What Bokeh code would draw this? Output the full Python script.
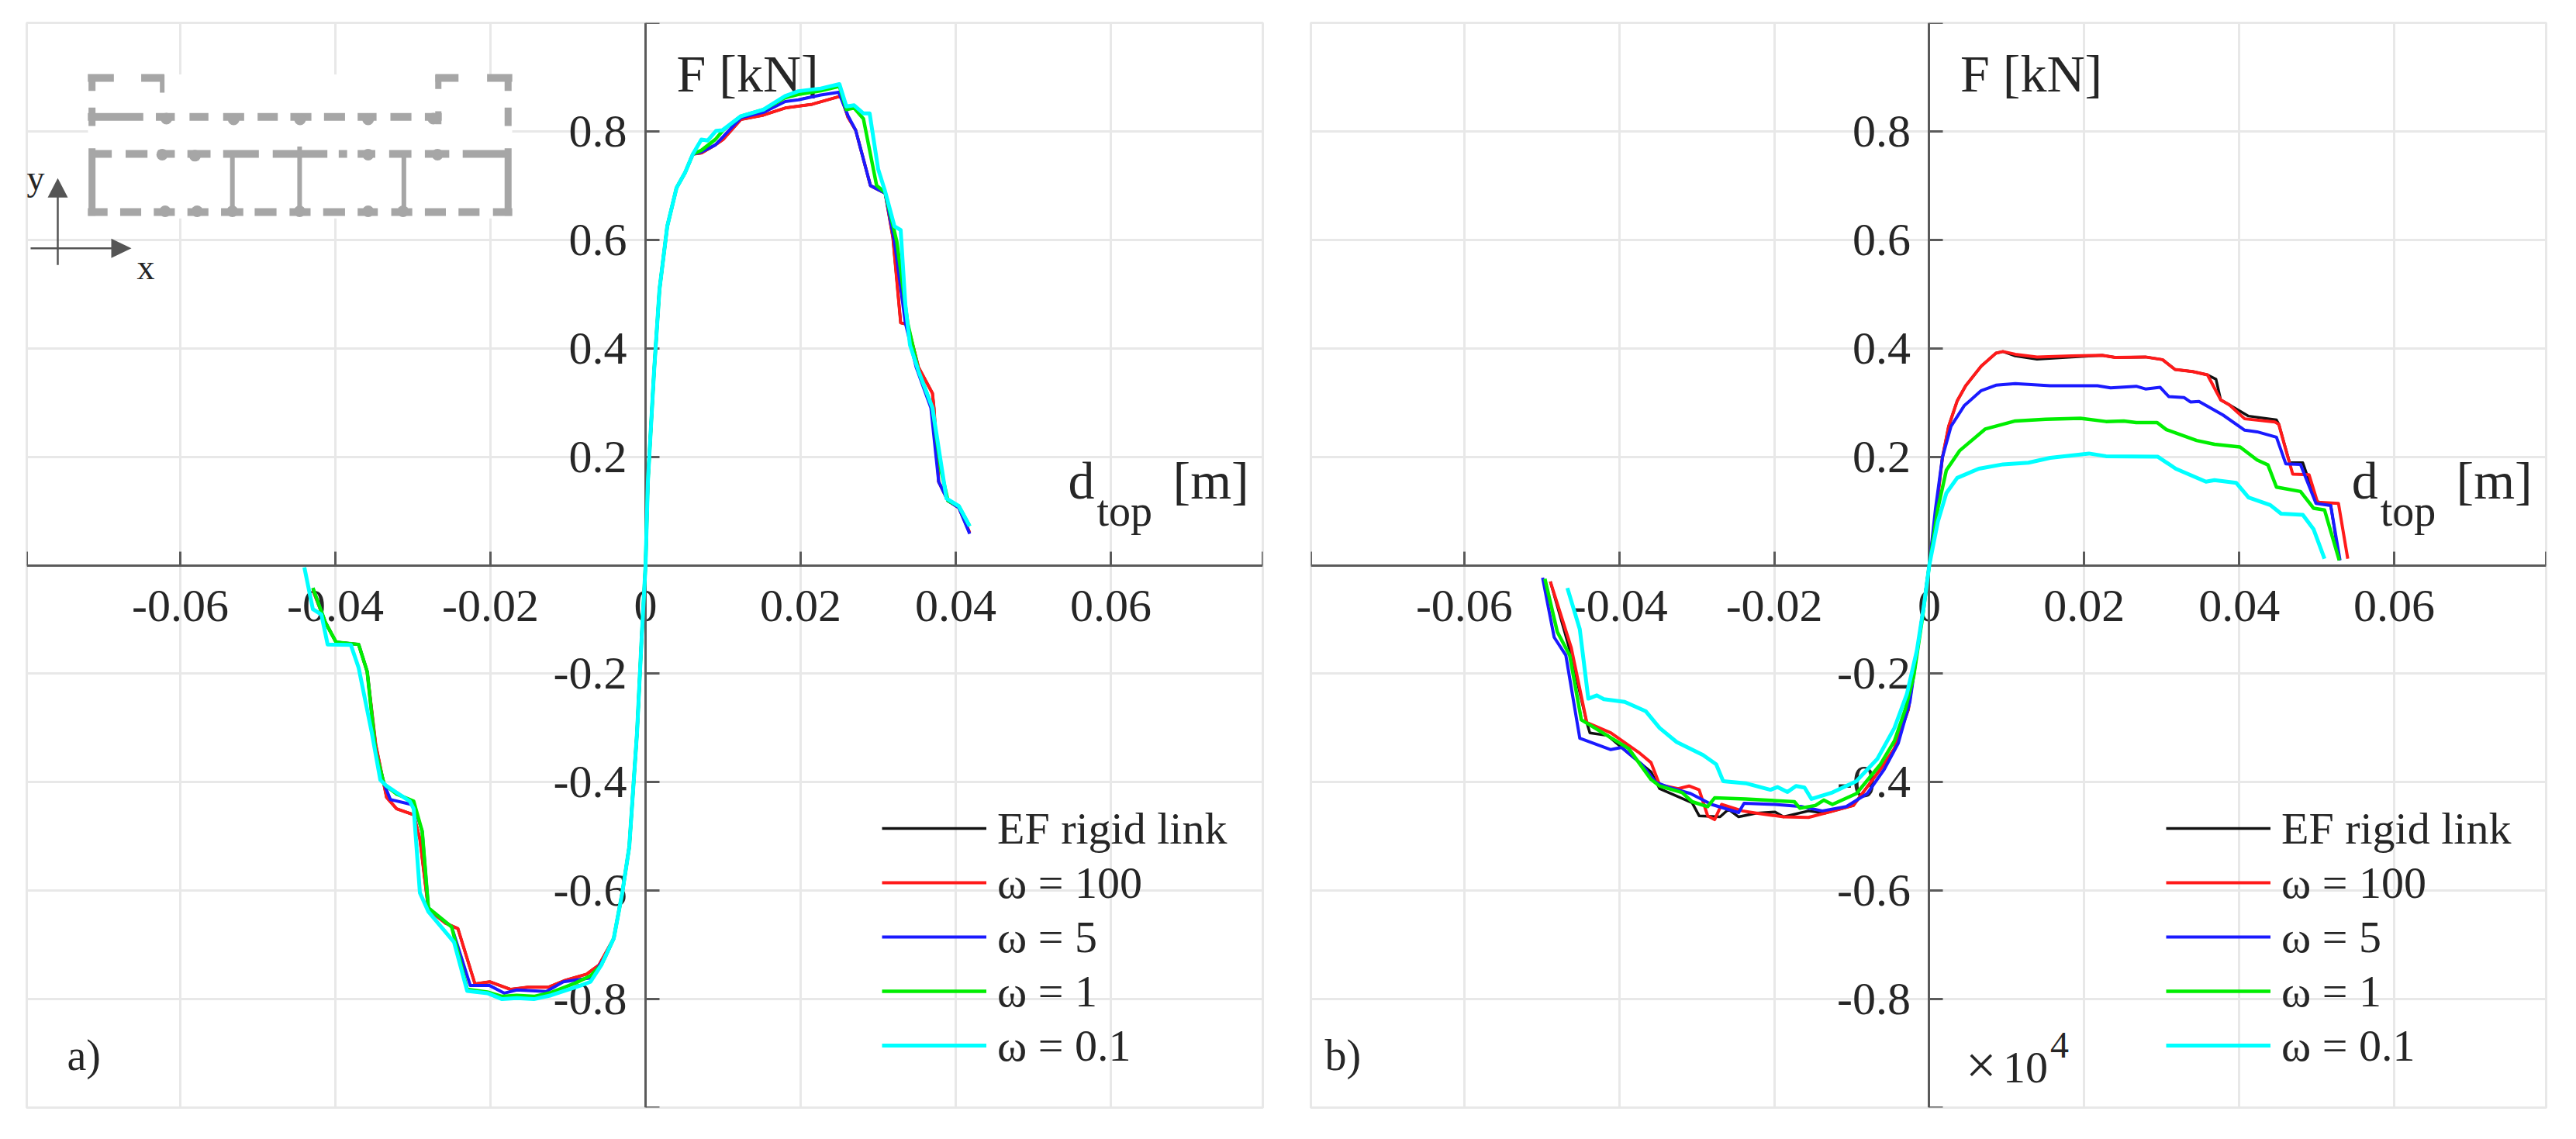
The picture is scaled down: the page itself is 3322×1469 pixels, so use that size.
from bokeh.plotting import figure
from bokeh.models import FixedTicker, Legend, LegendItem, Range1d
from bokeh.layouts import row
from bokeh.core.properties import value
from bokeh.embed import file_html
from bokeh.resources import INLINE

# ---------------- tick labels ----------------
X_TICKS = [-0.0798, -0.06, -0.04, -0.02, 0, 0.02, 0.04, 0.06, 0.0796]
X_LABELS = ["", "-0.06", "-0.04", "-0.02", "0", "0.02", "0.04", "0.06", ""]
Y_TICKS = [-1, -0.8, -0.6, -0.4, -0.2, 0, 0.2, 0.4, 0.6, 0.8, 1]
Y_LABELS = ["", "-0.8", "-0.6", "-0.4", "-0.2", "", "0.2", "0.4", "0.6", "0.8", ""]
SERIES_NAMES = ["EF rigid link", "ω = 100", "ω = 5", "ω = 1", "ω = 0.1"]
SERIES_COLORS = ["#111111", "#ff1a1a", "#1a1aff", "#00ee00", "#00ffff"]
SERIES_WIDTHS = [3.5, 4, 4, 4.5, 5]

# ---------------- panel a), d_top [m] and F [kN], negative end to positive end ----------------
A_CYAN_D = [-.0440, -.0429, -.0418, -.0410, -.0380, -.0370, -.0353, -.0342, -.0334, -.0304, -.0299, -.0291, -.0280, -.0247, -.0230, -.0204, -.0185, -.0166, -.0144, -.0122, -.0084, -.0071, -.0057, -.0041, -.0030, -.0021, -.0011, -.0005, 0,
            .0003, .0011, .0018, .0028, .0040, .0051, .0061, .0072, .0080, .0091, .0099, .0123, .0152, .0180, .0197, .0226, .0250, .0259, .0269, .0281, .0289, .0300, .0309, .0321, .0329, .0335, .0341, .0352, .0370, .0381, .0388, .0404, .0418]
A_CYAN_F = [-.004, -.081, -.091, -.146, -.147, -.189, -.309, -.396, -.407, -.435, -.449, -.604, -.639, -.695, -.785, -.789, -.800, -.798, -.800, -.793, -.775, -.768, -.737, -.688, -.604, -.519, -.309, -.133, 0,
            .154, .358, .509, .625, .696, .724, .758, .785, .783, .801, .802, .828, .840, .865, .874, .879, .887, .846, .848, .833, .833, .730, .689, .625, .618, .481, .406, .358, .290, .188, .123, .109, .072]

A_GREEN_D = [-.0429, -.0413, -.0399, -.0370, -.0359, -.0348, -.0337, -.0321, -.0299, -.0288, -.0280, -.0250, -.0230, -.0204, -.0185, -.0166, -.0144, -.0122, -.0090, -.0071, -.0057, -.0041, -.0030, -.0021, -.0011, -.0005, 0,
             .0003, .0011, .0018, .0028, .0040, .0051, .0061, .0072, .0090, .0100, .0123, .0152, .0180, .0197, .0226, .0250, .0259, .0269, .0281, .0298, .0309, .0324, .0338, .0352, .0370, .0381, .0390, .0404, .0418]
A_GREEN_F = [-.042, -.105, -.142, -.146, -.196, -.344, -.404, -.422, -.435, -.491, -.632, -.667, -.782, -.787, -.795, -.793, -.795, -.788, -.770, -.757, -.737, -.688, -.604, -.519, -.309, -.133, 0,
             .154, .358, .509, .625, .696, .724, .758, .765, .785, .802, .828, .840, .862, .868, .875, .883, .840, .843, .823, .700, .687, .597, .447, .358, .290, .175, .119, .109, .072]

A_BLUE_D = [-.0429, -.0413, -.0399, -.0370, -.0359, -.0348, -.0337, -.0329, -.0299, -.0288, -.0280, -.0250, -.0226, -.0201, -.0182, -.0166, -.0128, -.0106, -.0071, -.0052, -.0041, -.0030, -.0021, -.0011, -.0005, 0,
            .0003, .0011, .0018, .0028, .0040, .0051, .0061, .0072, .0090, .0100, .0123, .0152, .0180, .0197, .0226, .0249, .0261, .0271, .0290, .0309, .0321, .0335, .0349, .0368, .0378, .0390, .0404, .0418]
A_BLUE_F = [-.042, -.105, -.142, -.146, -.196, -.344, -.404, -.432, -.442, -.491, -.632, -.667, -.775, -.775, -.789, -.783, -.786, -.768, -.761, -.723, -.688, -.604, -.519, -.309, -.133, 0,
            .154, .358, .509, .625, .696, .724, .758, .762, .775, .790, .825, .835, .855, .858, .867, .872, .829, .802, .700, .686, .597, .447, .365, .290, .154, .119, .106, .058]

A_RED_D = [-.0429, -.0413, -.0399, -.0370, -.0359, -.0348, -.0334, -.0321, -.0299, -.0291, -.0280, -.0258, -.0242, -.0220, -.0201, -.0174, -.0152, -.0125, -.0103, -.0076, -.0060, -.0041, -.0030, -.0021, -.0011, -.0005, 0,
           .0003, .0011, .0018, .0028, .0040, .0051, .0061, .0072, .0090, .0100, .0123, .0152, .0180, .0215, .0252, .0261, .0271, .0290, .0309, .0319, .0329, .0338, .0352, .0370, .0372, .0378, .0390, .0404, .0418]
A_RED_F = [-.046, -.105, -.142, -.146, -.196, -.330, -.428, -.449, -.460, -.505, -.635, -.660, -.670, -.772, -.768, -.782, -.778, -.778, -.765, -.754, -.737, -.688, -.604, -.519, -.309, -.133, 0,
           .154, .358, .509, .625, .696, .724, .758, .760, .775, .785, .822, .830, .843, .850, .865, .826, .802, .700, .686, .604, .447, .444, .365, .317, .290, .154, .119, .106, .060]

A_BLACK_D = list(A_RED_D)
A_BLACK_F = list(A_RED_F)

# ---------------- panel b) ----------------
B_BLACK_D = [-.0489, -.0462, -.0442, -.0438, -.0415, -.0388, -.0359, -.0348, -.0306, -.0297, -.0270, -.0259, -.0246, -.0223, -.0199, -.0188, -.0156, -.0134, -.0098, -.0063, -.0045, -.0027, -.0011, 0,
             .0008, .0017, .0025, .0036, .0047, .0067, .0086, .0095, .0111, .0139, .0184, .0223, .0240, .0279, .0301, .0317, .0340, .0359, .0370, .0376, .0387, .0412, .0448, .0451, .0465, .0482, .0499, .0518, .0529]
B_BLACK_F = [-.030, -.166, -.290, -.309, -.314, -.347, -.381, -.412, -.438, -.462, -.464, -.450, -.464, -.457, -.455, -.464, -.453, -.457, -.443, -.376, -.338, -.266, -.113, 0,
             .090, .199, .256, .303, .331, .367, .391, .394, .386, .380, .384, .387, .383, .384, .379, .361, .357, .351, .343, .305, .296, .275, .268, .260, .189, .189, .118, .111, .009]

B_RED_D = [-.0489, -.0462, -.0442, -.0411, -.0375, -.0359, -.0348, -.0324, -.0310, -.0297, -.0286, -.0277, -.0268, -.0241, -.0223, -.0188, -.0156, -.0134, -.0098, -.0063, -.0045, -.0027, -.0011, 0,
           .0008, .0017, .0025, .0036, .0047, .0067, .0086, .0095, .0111, .0139, .0184, .0223, .0240, .0279, .0301, .0317, .0340, .0359, .0376, .0387, .0407, .0446, .0451, .0460, .0469, .0490, .0501, .0528, .0540]
B_RED_F = [-.030, -.152, -.290, -.309, -.345, -.364, -.405, -.412, -.407, -.414, -.462, -.469, -.441, -.453, -.457, -.464, -.465, -.457, -.443, -.376, -.338, -.266, -.113, 0,
           .090, .199, .256, .303, .331, .367, .391, .394, .389, .384, .386, .387, .383, .384, .379, .361, .357, .351, .305, .296, .270, .264, .260, .213, .168, .167, .116, .114, .012]

B_BLUE_D = [-.0499, -.0484, -.0469, -.0451, -.0411, -.0397, -.0371, -.0353, -.0335, -.0308, -.0281, -.0246, -.0239, -.0199, -.0165, -.0138, -.0107, -.0080, -.0058, -.0040, -.0025, -.0011, 0,
            .0008, .0017, .0028, .0045, .0067, .0086, .0111, .0156, .0217, .0234, .0267, .0279, .0298, .0309, .0329, .0337, .0348, .0379, .0407, .0423, .0448, .0460, .0479, .0499, .0518, .0530]
B_BLUE_F = [-.023, -.133, -.166, -.319, -.340, -.336, -.367, -.400, -.410, -.421, -.441, -.456, -.439, -.441, -.445, -.453, -.445, -.421, -.376, -.328, -.252, -.113, 0,
            .104, .199, .256, .294, .322, .332, .335, .331, .331, .327, .330, .325, .328, .311, .309, .301, .302, .277, .249, .246, .236, .187, .186, .114, .110, .009]

B_GREEN_D = [-.0496, -.0480, -.0464, -.0449, -.0388, -.0359, -.0348, -.0319, -.0306, -.0286, -.0277, -.0237, -.0174, -.0167, -.0147, -.0136, -.0125, -.0094, -.0063, -.0045, -.0031, -.0020, -.0009, 0,
             .0011, .0022, .0039, .0072, .0111, .0150, .0195, .0228, .0251, .0267, .0294, .0306, .0345, .0368, .0401, .0423, .0437, .0448, .0479, .0496, .0510, .0529]
B_GREEN_F = [-.025, -.123, -.166, -.285, -.338, -.395, -.407, -.419, -.436, -.445, -.429, -.431, -.436, -.448, -.443, -.433, -.441, -.421, -.367, -.324, -.266, -.204, -.099, 0,
             .104, .175, .211, .251, .266, .269, .271, .265, .266, .263, .263, .250, .230, .223, .218, .194, .185, .144, .136, .105, .102, .009]

B_CYAN_D = [-.0467, -.0451, -.0440, -.0429, -.0420, -.0393, -.0366, -.0348, -.0326, -.0292, -.0275, -.0266, -.0237, -.0205, -.0196, -.0183, -.0172, -.0161, -.0152, -.0125, -.0094, -.0067, -.0045, -.0029, -.0016, -.0007, 0,
            .0011, .0022, .0036, .0064, .0095, .0128, .0156, .0206, .0228, .0295, .0318, .0357, .0368, .0396, .0412, .0440, .0454, .0482, .0496, .0510]
B_CYAN_F = [-.042, -.118, -.246, -.240, -.247, -.252, -.269, -.300, -.326, -.350, -.367, -.398, -.402, -.414, -.409, -.418, -.407, -.410, -.431, -.419, -.398, -.357, -.300, -.238, -.157, -.075, 0,
            .080, .133, .161, .178, .186, .189, .198, .206, .201, .200, .178, .154, .157, .152, .125, .111, .095, .093, .066, .012]

A_CURVES = [(A_BLACK_D, A_BLACK_F), (A_RED_D, A_RED_F), (A_BLUE_D, A_BLUE_F), (A_GREEN_D, A_GREEN_F), (A_CYAN_D, A_CYAN_F)]
B_CURVES = [(B_BLACK_D, B_BLACK_F), (B_RED_D, B_RED_F), (B_BLUE_D, B_BLUE_F), (B_GREEN_D, B_GREEN_F), (B_CYAN_D, B_CYAN_F)]

SERIF = value("Liberation Serif")
INK = "#262626"
AXIS = "#5a5a5a"
GRID = "#e8e8e8"
PLAN = "#a6a6a6"


def make_panel(curves, width, left, right, zero_px):
    p = figure(width=width, height=1461, min_border_left=left, min_border_right=right,
               min_border_top=29, min_border_bottom=33, output_backend="svg", toolbar_location=None,
               x_range=Range1d(-0.0798, 0.0796), y_range=Range1d(-1.0, 1.0))
    p.background_fill_color = "white"
    p.outline_line_color = GRID
    p.outline_line_width = 3
    for ax, ticks, labels in ((p.xaxis[0], X_TICKS, X_LABELS), (p.yaxis[0], Y_TICKS, Y_LABELS)):
        ax.ticker = FixedTicker(ticks=ticks)
        ax.major_label_overrides = dict(zip(ticks, labels))
        ax.fixed_location = 0
        ax.level = "underlay"
        ax.axis_line_color = AXIS
        ax.axis_line_width = 3
        ax.major_tick_line_color = AXIS
        ax.major_tick_line_width = 3
        ax.major_tick_in = 18
        ax.major_tick_out = 0
        ax.minor_tick_line_color = None
        ax.major_label_text_font = "Liberation Serif"
        ax.major_label_text_font_size = "60px"
        ax.major_label_text_color = INK
    p.xaxis[0].major_label_standoff = 33
    p.yaxis[0].major_label_standoff = 24
    for g in (p.xgrid[0], p.ygrid[0]):
        g.grid_line_color = GRID
        g.grid_line_width = 3
        g.level = "image"
    p.xgrid[0].ticker = FixedTicker(ticks=X_TICKS)
    p.ygrid[0].ticker = FixedTicker(ticks=Y_TICKS)

    def dx(px):
        return (px - zero_px) / 10000.0

    def dy(py):
        return (729.5 - py) / 700.0

    def txt(px, py, s, size):
        p.text(x=[dx(px)], y=[dy(py - 0.3 * size)], text=[s], text_font=SERIF, text_font_size=f"{size}px",
               text_baseline="middle", text_align="left", text_color=INK)

    txt(zero_px + 40, 115, "F [kN]", 68)
    txt(zero_px + 545, 641, "d", 68)
    txt(zero_px + 582, 676, "top", 56)
    txt(zero_px + 680, 641, "[m]", 68)

    items = []
    for (d, f), name, col, w in zip(curves, SERIES_NAMES, SERIES_COLORS, SERIES_WIDTHS):
        r = p.line(d, f, line_color=col, line_width=w, line_join="round")
        items.append(LegendItem(label=name, renderers=[r]))
    leg = Legend(items=items, location=(1103, 45), background_fill_alpha=0, border_line_color=None,
                 label_text_font="Liberation Serif", label_text_font_size="58px", label_text_color=INK,
                 glyph_width=135, glyph_height=40, label_standoff=14, spacing=0, padding=0, margin=0,
                 label_height=70)
    p.add_layout(leg, "center")
    return p, dx, dy, txt


p1, dx, dy, txt1 = make_panel(A_CURVES, 1659, 34, 31, 832)
txt1(86, 1379, "a)", 56)

# inset floor plan (decoration of panel a, placed in page pixels)
p1.quad(left=[dx(113)], right=[dx(660)], top=[dy(96)], bottom=[dy(282)], fill_color="white", line_color=None, level="underlay")
Z = lambda v: v / 1.845
W = lambda v: v / 2.09
H_WALLS = [
    (210, [(208, 270), (335, 390), (1035, 1090), (1158, 1218)]),
    (315, [(208, 340), (370, 415), (450, 495), (530, 580), (612, 660), (690, 740), (770, 820), (850, 895), (928, 978), (1010, 1050)]),
    (415, [(218, 265), (298, 350), (375, 415), (445, 500), (530, 615), (648, 778), (805, 825), (850, 892), (925, 978), (1010, 1068), (1100, 1208)]),
    (572, [(208, 255), (285, 335), (365, 415), (445, 495), (525, 578), (605, 657), (688, 738), (768, 820), (850, 898), (930, 980), (1010, 1060), (1090, 1140), (1172, 1218)]),
]
V_WALLS = [
    (218, 202, 245, 9), (218, 290, 340, 9), (385, 202, 250, 6), (1042, 202, 240, 8), (1042, 300, 335, 8),
    (1208, 202, 245, 9), (1208, 290, 340, 9), (218, 400, 582, 9), (1208, 400, 582, 9),
    (552, 415, 572, 6), (712, 395, 572, 6), (960, 415, 572, 6),
]
NUBS = [(395, 320), (555, 322), (713, 322), (875, 322), (1030, 320), (385, 417), (463, 420), (875, 417), (1040, 417),
        (392, 570), (468, 570), (875, 570), (552, 570), (712, 570), (958, 570)]
for zy, spans in H_WALLS:
    for a, b in spans:
        p1.line([dx(Z(a)), dx(Z(b))], [dy(W(zy))] * 2, line_color=PLAN, line_width=10)
for zx, a, b, w in V_WALLS:
    p1.line([dx(Z(zx))] * 2, [dy(W(a)), dy(W(b))], line_color=PLAN, line_width=w)
p1.scatter([dx(Z(a)) for a, _ in NUBS], [dy(W(b)) for _, b in NUBS], size=15, fill_color=PLAN, line_color=None)

# x/y arrows
AR = "#555555"
p1.line([dx(74), dx(74)], [dy(342), dy(250)], line_color=AR, line_width=2.5)
p1.line([dx(39), dx(150)], [dy(320.5), dy(320.5)], line_color=AR, line_width=2.5)
p1.patch([dx(74), dx(61), dx(87)], [dy(230), dy(255), dy(255)], fill_color=AR, line_color=None)
p1.patch([dx(169), dx(143), dx(143)], [dy(320.5), dy(308), dy(333)], fill_color=AR, line_color=None)
txt1(34, 243, "y", 46)
txt1(176, 359, "x", 46)

p2, dx2, dy2, txt2 = make_panel(B_CURVES, 1655, 31, 31, 2488)
txt2(1708, 1379, "b)", 56)
txt2(2535, 1395, "×", 70)
txt2(2583, 1395, "10", 58)
txt2(2644, 1363, "4", 48)

open("out.html", "w").write(file_html(row(p1, p2), INLINE))
